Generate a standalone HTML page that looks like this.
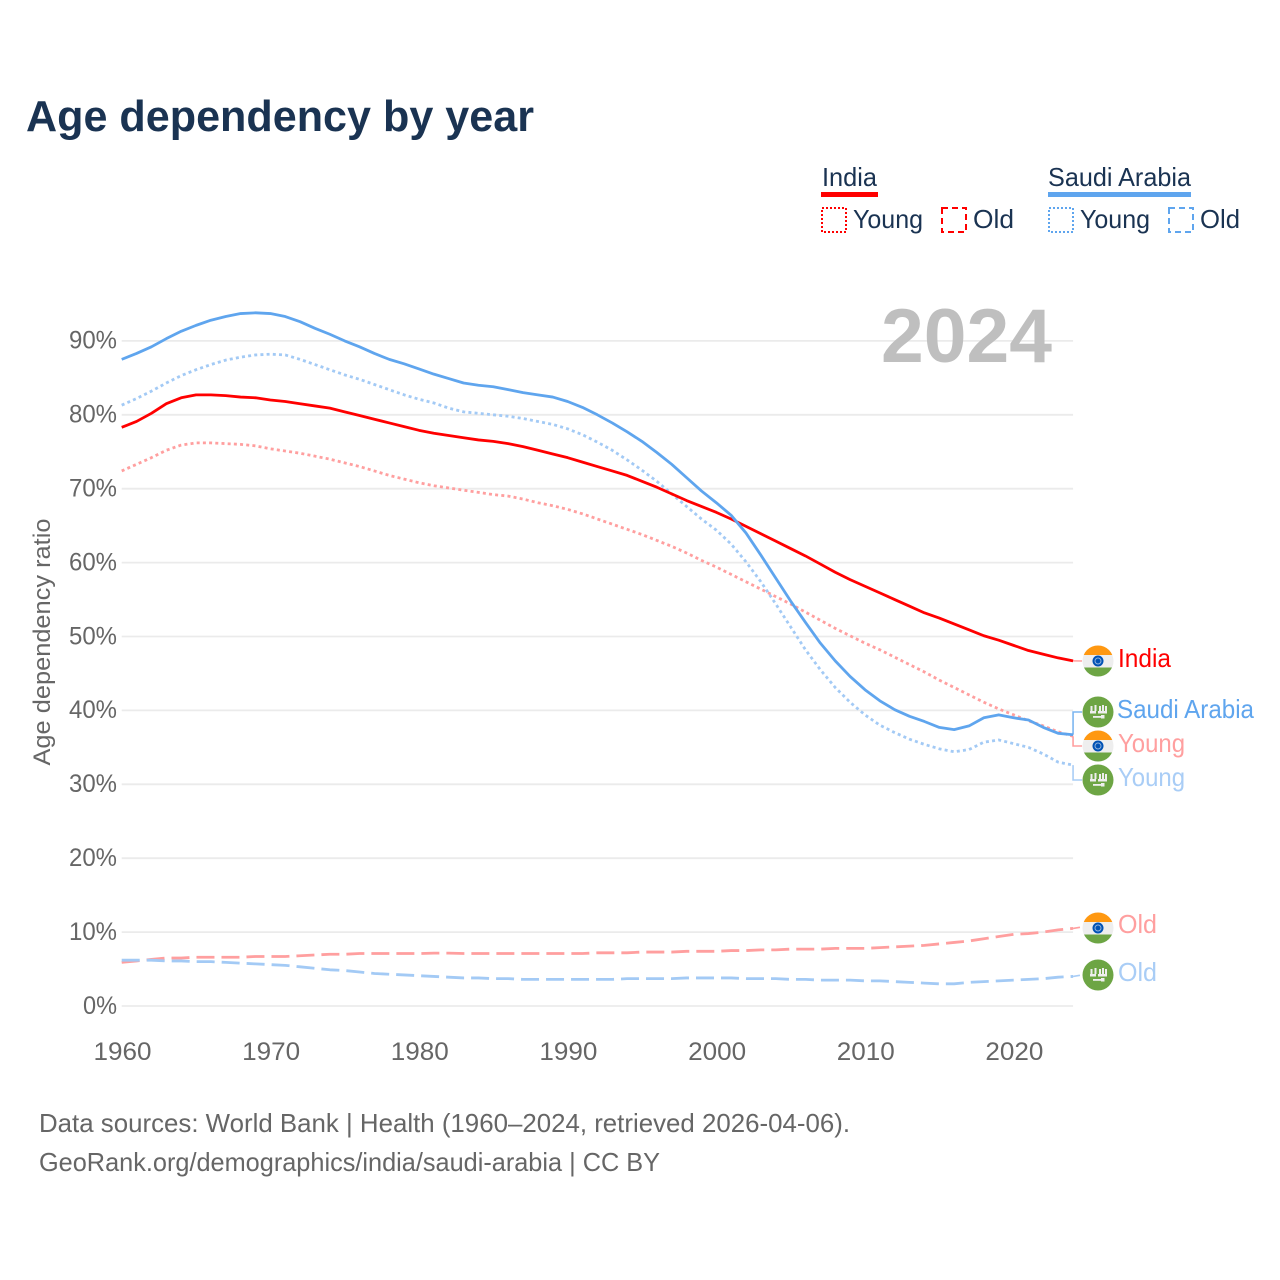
<!DOCTYPE html>
<html lang="en">
<head>
<meta charset="utf-8">
<title>Age dependency by year</title>
<style>
html,body{margin:0;padding:0;background:#fff}
svg{display:block}
text{font-family:"Liberation Sans",sans-serif}
</style>
</head>
<body>
<svg id="chart" xmlns="http://www.w3.org/2000/svg" width="1280" height="1280" viewBox="0 0 1280 1280">
  <rect x="0" y="0" width="1280" height="1280" fill="#fff"/>
  <text x="26" y="131" font-size="44" font-weight="700" fill="#1a3352" textLength="508" lengthAdjust="spacingAndGlyphs">Age dependency by year</text>

  <g>
    <text x="822" y="186" font-size="26" fill="#1a3352" textLength="55" lengthAdjust="spacingAndGlyphs">India</text>
    <rect x="821" y="192" width="57" height="5" fill="#ff0000"/>
    <rect x="822" y="208" width="24" height="24" fill="none" stroke="#ff0000" stroke-width="2" stroke-dasharray="2 2"/>
    <text x="853" y="228" font-size="26" fill="#1a3352" textLength="70" lengthAdjust="spacingAndGlyphs">Young</text>
    <rect x="942" y="208" width="24" height="24" fill="none" stroke="#ff0000" stroke-width="2" stroke-dasharray="6 4"/>
    <text x="973" y="228" font-size="26" fill="#1a3352" textLength="41" lengthAdjust="spacingAndGlyphs">Old</text>
    <text x="1048" y="186" font-size="26" fill="#1a3352" textLength="143" lengthAdjust="spacingAndGlyphs">Saudi Arabia</text>
    <rect x="1048" y="192" width="143" height="5" fill="#5fa5ee"/>
    <rect x="1049" y="208" width="24" height="24" fill="none" stroke="#5fa5ee" stroke-width="2" stroke-dasharray="2 2"/>
    <text x="1080" y="228" font-size="26" fill="#1a3352" textLength="70" lengthAdjust="spacingAndGlyphs">Young</text>
    <rect x="1169" y="208" width="24" height="24" fill="none" stroke="#5fa5ee" stroke-width="2" stroke-dasharray="6 4"/>
    <text x="1200" y="228" font-size="26" fill="#1a3352" textLength="40" lengthAdjust="spacingAndGlyphs">Old</text>
  </g>

  <text transform="translate(50,642) rotate(-90)" text-anchor="middle" font-size="24" fill="#666" textLength="247" lengthAdjust="spacingAndGlyphs">Age dependency ratio</text>

  <g id="grid"></g>
  <g id="yticks"></g>
  <g id="xticks"></g>

  <text x="1052" y="362" text-anchor="end" font-size="76" font-weight="700" fill="#bfbfbf" textLength="171" lengthAdjust="spacingAndGlyphs">2024</text>

  <g id="series"></g>

  <g>
    <g transform="translate(1098,661)">
      <use href="#flag-in"/>
    </g>
    <text x="1118" y="667" font-size="26" fill="#ff0000" textLength="53" lengthAdjust="spacingAndGlyphs">India</text>
    <g transform="translate(1098,712)">
      <use href="#flag-sa"/>
    </g>
    <text x="1117" y="718" font-size="26" fill="#5fa5ee" textLength="137" lengthAdjust="spacingAndGlyphs">Saudi Arabia</text>
    <g transform="translate(1098,746)">
      <use href="#flag-in"/>
    </g>
    <text x="1118" y="752" font-size="26" fill="#ff9f9f" textLength="67" lengthAdjust="spacingAndGlyphs">Young</text>
    <g transform="translate(1098,780)">
      <use href="#flag-sa"/>
    </g>
    <text x="1118" y="786" font-size="26" fill="#a9cdf6" textLength="67" lengthAdjust="spacingAndGlyphs">Young</text>
    <g transform="translate(1098,928)">
      <use href="#flag-in"/>
    </g>
    <text x="1118" y="933" font-size="26" fill="#ff9f9f" textLength="39" lengthAdjust="spacingAndGlyphs">Old</text>
    <g transform="translate(1098,975)">
      <use href="#flag-sa"/>
    </g>
    <text x="1118" y="981" font-size="26" fill="#a9cdf6" textLength="39" lengthAdjust="spacingAndGlyphs">Old</text>
  </g>

  <text x="39" y="1132" font-size="26" fill="#666" textLength="811" lengthAdjust="spacingAndGlyphs">Data sources: World Bank | Health (1960–2024, retrieved 2026-04-06).</text>
  <text x="39" y="1171" font-size="26" fill="#666" textLength="621" lengthAdjust="spacingAndGlyphs">GeoRank.org/demographics/india/saudi-arabia | CC BY</text>

  <defs>
    <clipPath id="flag-clip"><circle cx="0" cy="0" r="15.5"/></clipPath>
    <g id="flag-in" clip-path="url(#flag-clip)">
      <rect x="-16" y="-16" width="32" height="32" fill="#eeeeee"/>
      <rect x="-16" y="-16" width="32" height="10" fill="#ff9811"/>
      <rect x="-16" y="6.5" width="32" height="10" fill="#6da544"/>
      <circle cx="0" cy="0" r="5.5" fill="#0052b4"/>
      <circle cx="0" cy="0" r="3" fill="none" stroke="#8fb2dd" stroke-width="1"/>
    </g>
    <g id="flag-sa" clip-path="url(#flag-clip)">
      <rect x="-16" y="-16" width="32" height="32" fill="#6da544"/>
      <rect x="-8" y="-1" width="6" height="2.5" fill="#eeeeee"/>
      <rect x="0" y="-1" width="9" height="2.5" fill="#eeeeee"/>
      <rect x="-7.5" y="-6" width="2" height="5" fill="#eeeeee"/>
      <rect x="-3.5" y="-7" width="2" height="6" fill="#eeeeee"/>
      <rect x="1" y="-6" width="2" height="5" fill="#eeeeee"/>
      <rect x="4" y="-7" width="2" height="6" fill="#eeeeee"/>
      <rect x="7" y="-6" width="2" height="5" fill="#eeeeee"/>
      <rect x="-5" y="4" width="9" height="1.8" fill="#eeeeee"/>
      <rect x="3" y="3" width="3.5" height="3.5" fill="#eeeeee"/>
    </g>
  </defs>
</svg>
<script>
const yTickValues = [0, 10, 20, 30, 40, 50, 60, 70, 80, 90];
const xTickYears = [1960, 1970, 1980, 1990, 2000, 2010, 2020];
const startYear = 1960;

const indiaTotal = [
  78.3, 79.1, 80.2, 81.5, 82.3, 82.7, 82.7, 82.6, 82.4, 82.3,
  82.0, 81.8, 81.5, 81.2, 80.9, 80.4, 79.9, 79.4, 78.9, 78.4,
  77.9, 77.5, 77.2, 76.9, 76.6, 76.4, 76.1, 75.7, 75.2, 74.7,
  74.2, 73.6, 73.0, 72.4, 71.8, 71.0, 70.2, 69.3, 68.4, 67.6,
  66.8, 65.9, 64.9, 63.9, 62.9, 61.9, 60.9, 59.8, 58.7, 57.7,
  56.8, 55.9, 55.0, 54.1, 53.2, 52.5, 51.7, 50.9, 50.1, 49.5,
  48.8, 48.1, 47.6, 47.1, 46.7
];
const indiaYoung = [
  72.4, 73.3, 74.2, 75.2, 75.9, 76.2, 76.2, 76.1, 76.0, 75.8,
  75.4, 75.1, 74.8, 74.4, 74.0, 73.5, 73.0, 72.4, 71.8, 71.3,
  70.8, 70.4, 70.1, 69.8, 69.5, 69.2, 69.0, 68.6, 68.1, 67.7,
  67.2, 66.6, 65.9, 65.2, 64.5, 63.8, 63.0, 62.2, 61.3, 60.3,
  59.4, 58.4, 57.4, 56.4, 55.4, 54.4, 53.3, 52.2, 51.1, 50.1,
  49.1, 48.2, 47.2, 46.2, 45.2, 44.1, 43.1, 42.1, 41.1, 40.2,
  39.4, 38.6, 37.9, 37.1, 36.5
];
const indiaOld = [
  5.9, 6.1, 6.3, 6.5, 6.5, 6.6, 6.6, 6.6, 6.6, 6.7,
  6.7, 6.7, 6.8, 6.9, 7.0, 7.0, 7.1, 7.1, 7.1, 7.1,
  7.1, 7.15, 7.15, 7.1, 7.1, 7.1, 7.1, 7.1, 7.1, 7.1,
  7.1, 7.1, 7.2, 7.2, 7.2, 7.3, 7.3, 7.3, 7.4, 7.4,
  7.4, 7.5, 7.5, 7.6, 7.6, 7.7, 7.7, 7.7, 7.8, 7.8,
  7.8, 7.9, 8.0, 8.1, 8.2, 8.4, 8.6, 8.8, 9.1, 9.4,
  9.7, 9.8, 10.0, 10.3, 10.5
];
const saudiTotal = [
  87.5, 88.3, 89.2, 90.3, 91.3, 92.1, 92.8, 93.3, 93.7, 93.8,
  93.7, 93.3, 92.6, 91.7, 90.9, 90.0, 89.2, 88.3, 87.5, 86.9,
  86.2, 85.5, 84.9, 84.3, 84.0, 83.8, 83.4, 83.0, 82.7, 82.4,
  81.8, 81.0, 80.0, 78.9, 77.7, 76.4, 74.9, 73.3, 71.5, 69.7,
  68.1, 66.4, 64.0, 61.0, 57.9, 54.8, 51.9, 49.1, 46.7, 44.6,
  42.8, 41.3, 40.1, 39.2, 38.5, 37.7, 37.4, 37.9, 39.0, 39.4,
  39.0, 38.7, 37.7, 36.9, 36.7
];
const saudiYoung = [
  81.3, 82.2, 83.2, 84.3, 85.3, 86.1, 86.8, 87.4, 87.8, 88.1,
  88.2, 88.1, 87.5, 86.8, 86.1, 85.4, 84.8, 84.1, 83.4, 82.7,
  82.1, 81.6, 80.9, 80.4, 80.2, 80.0, 79.8, 79.5, 79.1, 78.7,
  78.1, 77.3, 76.3, 75.2, 73.9, 72.5, 71.0, 69.3, 67.6, 65.9,
  64.4, 62.5, 60.1, 57.4, 54.4, 51.3, 48.2, 45.5, 43.1, 41.1,
  39.4, 38.0, 37.0, 36.1, 35.4, 34.8, 34.4, 34.7, 35.7, 36.0,
  35.5, 35.0, 34.1, 33.0, 32.6
];
const saudiOld = [
  6.2, 6.2, 6.2, 6.1, 6.1, 6.0, 6.0, 5.9, 5.8, 5.7,
  5.6, 5.5, 5.3, 5.1, 4.9, 4.8, 4.6, 4.4, 4.3, 4.2,
  4.1, 4.0, 3.9, 3.8, 3.8, 3.7, 3.7, 3.6, 3.6, 3.6,
  3.6, 3.6, 3.6, 3.6, 3.7, 3.7, 3.7, 3.7, 3.8, 3.8,
  3.8, 3.8, 3.7, 3.7, 3.7, 3.6, 3.6, 3.5, 3.5, 3.5,
  3.4, 3.4, 3.3, 3.2, 3.1, 3.0, 3.0, 3.2, 3.3, 3.4,
  3.5, 3.6, 3.7, 3.9, 4.0
];

const NS = 'http://www.w3.org/2000/svg';
function xScale(year) { return 121.7 + (year - 1960) * 14.865; }
function yScale(value) { return 1006 - value * 7.39; }

const grid = document.getElementById('grid');
const yticks = document.getElementById('yticks');
yTickValues.forEach(function (v) {
  const line = document.createElementNS(NS, 'line');
  
  
  line.setAttribute('x1', xScale(1960));
  line.setAttribute('x2', xScale(2024));
  line.setAttribute('y1', yScale(v));
  line.setAttribute('y2', yScale(v));
  line.setAttribute('stroke', '#ebebeb');
  line.setAttribute('stroke-width', '1.8');
  grid.appendChild(line);
  const t = document.createElementNS(NS, 'text');
  
  
  t.setAttribute('x', 117);
  t.setAttribute('y', yScale(v) + 7.8);
  t.setAttribute('text-anchor', 'end');
  t.setAttribute('font-size', '25');
  t.setAttribute('fill', '#666');
  t.setAttribute('textLength', v === 0 ? 34 : 48);
  t.setAttribute('lengthAdjust', 'spacingAndGlyphs');
  t.textContent = v + '%';
  yticks.appendChild(t);
});

const xticks = document.getElementById('xticks');
xTickYears.forEach(function (yr) {
  const t = document.createElementNS(NS, 'text');
  
  
  t.setAttribute('x', xScale(yr) + 0.8);
  t.setAttribute('y', 1060);
  t.setAttribute('text-anchor', 'middle');
  t.setAttribute('font-size', '25');
  t.setAttribute('fill', '#666');
  t.setAttribute('textLength', 58);
  t.setAttribute('lengthAdjust', 'spacingAndGlyphs');
  t.textContent = String(yr);
  xticks.appendChild(t);
});

const seriesGroup = document.getElementById('series');

function drawLine(values, color, dash, width) {
  const pts = values.map(function (v, i) {
    return xScale(startYear + i).toFixed(2) + ',' + yScale(v).toFixed(2);
  }).join(' ');
  const p = document.createElementNS(NS, 'polyline');
  
  
  p.setAttribute('points', pts);
  p.setAttribute('fill', 'none');
  p.setAttribute('stroke', color);
  p.setAttribute('stroke-width', width);
  p.setAttribute('stroke-linejoin', 'round');
  if (dash) p.setAttribute('stroke-dasharray', dash);
  seriesGroup.appendChild(p);
}

function drawConnector(values, labelY, color, dash) {
  const last = yScale(values[values.length - 1]);
  const x0 = xScale(2024);
  const pts = Math.abs(last - labelY) < 3
    ? x0 + ',' + last + ' 1082,' + labelY
    : x0 + ',' + last + ' ' + x0 + ',' + labelY + ' 1082,' + labelY;
  const c = document.createElementNS(NS, 'polyline');
  
  
  c.setAttribute('points', pts);
  c.setAttribute('fill', 'none');
  c.setAttribute('stroke', color);
  c.setAttribute('stroke-width', '1.6');
  if (dash) c.setAttribute('stroke-dasharray', dash);
  seriesGroup.appendChild(c);
}

drawConnector(indiaOld, 927, '#ff9f9f', '7 3');
drawConnector(saudiOld, 975, '#a9cdf6', '7 3');
drawConnector(indiaYoung, 746, '#ff9f9f');
drawConnector(saudiYoung, 780, '#a9cdf6');
drawConnector(indiaTotal, 661, '#ff9f9f');
drawConnector(saudiTotal, 712, '#7db6f0');

drawLine(indiaOld, '#ff9f9f', '18 7', 2.8);
drawLine(saudiOld, '#a3caf5', '18 7', 2.8);
drawLine(indiaYoung, '#ff9f9f', '3 3.2', 2.8);
drawLine(saudiYoung, '#a3caf5', '3 3.2', 2.8);
drawLine(indiaTotal, '#ff0000', null, 2.8);
drawLine(saudiTotal, '#5fa5ee', null, 2.8);
</script>
</body>
</html>
